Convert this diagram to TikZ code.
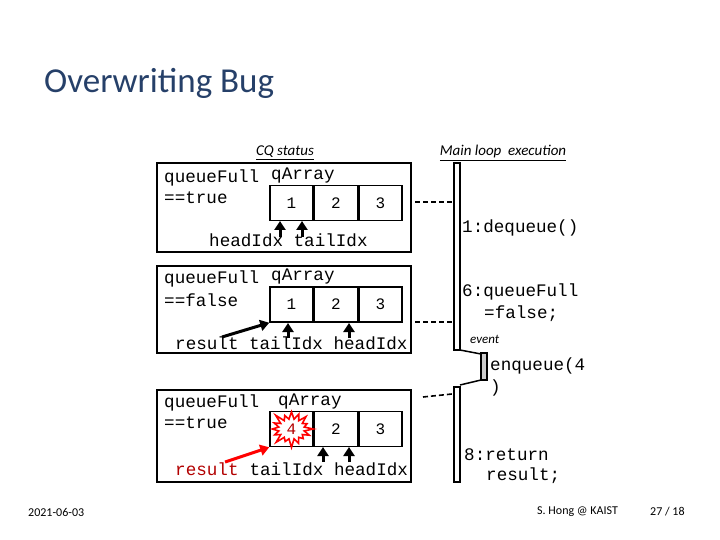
\documentclass[tikz,border=0pt]{standalone}
\usepackage{fontspec}
\setmainfont{Carlito}
\newfontfamily\cmono{Liberation Mono}
\usetikzlibrary{shapes.symbols,arrows.meta}
\definecolor{ttl}{RGB}{38,64,105}
\begin{document}
\begin{tikzpicture}[x=1pt,y=-1pt,
  box/.style={draw,line width=1.5pt},
  cell/.style={draw,line width=1.5pt,minimum width=43pt,minimum height=35pt,inner sep=0pt,font=\cmono\fontsize{16}{16}\selectfont},
  code/.style={font=\cmono\fontsize{17.6}{18}\selectfont,inner sep=0pt,anchor=west},
  up/.style={-{Triangle[width=11pt,length=9pt]},line width=3pt},
  dline/.style={dash pattern=on 5pt off 3pt,line width=1.6pt},
  bar/.style={draw,line width=1.8pt,fill=white}]
\useasboundingbox (0,0) rectangle (720,540);
\node[anchor=west,font=\fontsize{35}{40}\selectfont,text=ttl,inner sep=0] (title) at (44,83) {Overwriting Bug};
\node[anchor=west,font=\fontsize{12}{12}\selectfont,inner sep=0] (date) at (28,512) {2021-06-03};
\node[anchor=west,font=\fontsize{12}{12}\selectfont,inner sep=0] (auth) at (537,512) {S. Hong @ KAIST};
\node[anchor=west,font=\fontsize{12}{12}\selectfont,inner sep=0] (page) at (650,512) {27 / 18};
\node[font=\itshape\fontsize{15}{16}\selectfont,inner sep=0] (cq) at (285,153) {\underline{CQ status}};
\node[font=\itshape\fontsize{15}{16}\selectfont,inner sep=0] (ml) at (503,153) {\underline{Main loop\ \ execution}};
% box 1
\draw[box] (157,163) rectangle (411,252);
\node[code] (q1) at (164,178) {queueFull};
\node[code] (t1) at (164,198) {==true};
\node[code] (a1) at (271,176) {qArray};
\node[cell] (c11) at (291.5,203) {1};
\node[cell,anchor=west] (c12) at (c11.east) {2};
\node[cell,anchor=west] (c13) at (c12.east) {3};
\node[code] (l1) at (209,240) {headIdx tailIdx};
\coordinate (h1) at (280,237); \coordinate (h1e) at (280,221);
\coordinate (t1s) at (302,237); \coordinate (t1e) at (302,221);
\draw[up] (h1) -- (h1e); \draw[up] (t1s) -- (t1e);
% box 2
\draw[box] (157,266) rectangle (411,353);
\node[code] (q2) at (164,279) {queueFull};
\node[code] (t2) at (164,300) {==false};
\node[code] (a2) at (271,277) {qArray};
\node[cell] (c21) at (291.5,304.5) {1};
\node[cell,anchor=west] (c22) at (c21.east) {2};
\node[cell,anchor=west] (c23) at (c22.east) {3};
\node[code] (l2) at (175,343) {result tailIdx headIdx};
\coordinate (r2) at (222,337);
\draw[up] (r2) -- (c21.south west);
\coordinate (t2s) at (288,338); \coordinate (t2e) at (288,323);
\coordinate (h2s) at (349,338); \coordinate (h2e) at (349,323);
\draw[up] (t2s) -- (t2e); \draw[up] (h2s) -- (h2e);
% box 3
\draw[box] (157,390) rectangle (411,482);
\node[code] (q3) at (164,403) {queueFull};
\node[code] (t3) at (164,423) {==true};
\node[code] (a3) at (278,402) {qArray};
\node[cell] (c31) at (291.5,429) {};
\node[cell,anchor=west] (c32) at (c31.east) {2};
\node[cell,anchor=west] (c33) at (c32.east) {3};
\node[starburst,draw=red,fill=white,line width=1.6pt,minimum width=46pt,minimum height=40pt,inner sep=0pt,starburst points=16,starburst point height=10pt,font=\cmono\fontsize{16}{16}\selectfont,text=red!70!black] (star) at (c31) {4};
\node[code,text=red!70!black] (r3) at (175,469) {result};
\node[code,anchor=west] (l3) at (r3.east) {\ tailIdx headIdx};
\coordinate (r3s) at (225,462);
\draw[up,red] (r3s) -- (c31.south west);
\coordinate (t3s) at (323,462); \coordinate (t3e) at (323,447);
\coordinate (h3s) at (349,462); \coordinate (h3e) at (349,447);
\draw[up] (t3s) -- (t3e); \draw[up] (h3s) -- (h3e);
% main loop
\draw[bar] (454,163) rectangle (460,350);
\draw[bar,fill=gray!40] (481,353) rectangle (487,380);
\draw[bar] (454,387) rectangle (460,482);
\draw[line width=1.5pt] (460,350) -- (481,354);
\draw[line width=1.5pt] (481,380) -- (460,385);
\coordinate (d1a) at (415,202); \coordinate (d1b) at (454,202);
\coordinate (d2a) at (415,322); \coordinate (d2b) at (454,322);
\coordinate (d3a) at (423,397); \coordinate (d3b) at (452,394);
\draw[dline] (d1a) -- (d1b); \draw[dline] (d2a) -- (d2b); \draw[dline] (d3a) -- (d3b);
\node[code] (m1) at (462,228) {1:dequeue()};
\node[code] (m2) at (462,292) {6:queueFull};
\node[code] (m3) at (484,314) {=false;};
\node[anchor=west,inner sep=0,font=\itshape\fontsize{13}{14}\selectfont] (ev) at (470,339) {event};
\node[code] (m4) at (490,366) {enqueue(4};
\node[code] (m5) at (490,388) {)};
\node[code] (m6) at (464,455) {8:return};
\node[code] (m7) at (486,476) {result;};
\end{tikzpicture}
\end{document}
